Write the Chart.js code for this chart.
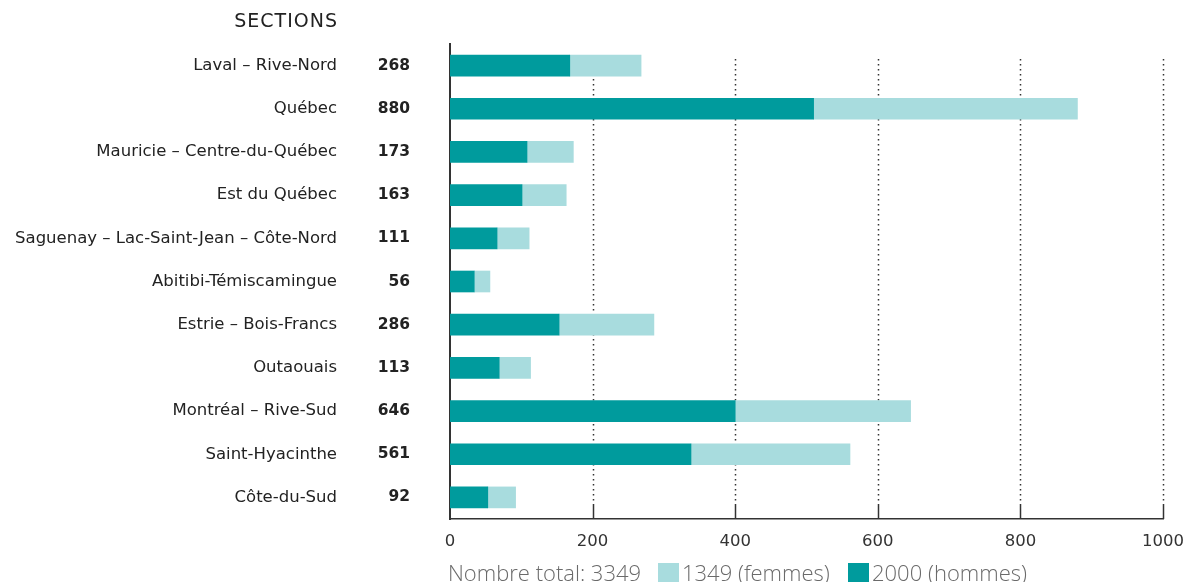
<!DOCTYPE html>
<html>
<head>
<meta charset="utf-8">
<script src="https://cdn.jsdelivr.net/npm/chart.js@4"></script>
<style>
	html, body { margin: 0; padding: 0; background: #fff; }
	.wrap { position: relative; width: 1185px; height: 582px; }
</style>
</head>
<body>
<div class="wrap"><canvas id="sectionsChart"></canvas></div>
<script>
const sections = [
	'Laval – Rive-Nord',
	'Québec',
	'Mauricie – Centre-du-Québec',
	'Est du Québec',
	'Saguenay – Lac-Saint-Jean – Côte-Nord',
	'Abitibi-Témiscamingue',
	'Estrie – Bois-Francs',
	'Outaouais',
	'Montréal – Rive-Sud',
	'Saint-Hyacinthe',
	'Côte-du-Sud'
];
const totals = [268, 880, 173, 163, 111, 56, 286, 113, 646, 561, 92];
const hommes = [168, 510, 108, 101, 66, 34, 153, 69, 400, 338, 53];
const femmes = [100, 370, 65, 62, 45, 22, 133, 44, 246, 223, 39];
const xTicks = [0, 200, 400, 600, 800, 1000];

const axisTitle = 'SECTIONS';
const totalLabel = 'Nombre total: 3349';
const femmesLabel = '1349 (femmes)';
const hommesLabel = '2000 (hommes)';

const colors = {
	hommes: '#009b9d',
	femmes: '#a8dcde',
	text: '#222',
	axis: '#333',
	legend: '#6a6a6a'
};
const labelFont = '"DejaVu Sans", "Noto Sans", sans-serif';
const legendFont = '"Open Sans", "Noto Sans", sans-serif';

// dotted grid + small solid ticks above the x axis, and the extra texts
const overlay = {
	id: 'overlay',
	beforeDatasetsDraw(chart) {
		const { ctx, chartArea, scales } = chart;
		ctx.save();
		ctx.strokeStyle = colors.axis;
		ctx.lineWidth = 1.5;
		xTicks.forEach(v => {
			if (v === 0) return;
			const px = Math.round(scales.x.getPixelForValue(v)) + 0.5;
			ctx.setLineDash([1.5, 3.5]);
			ctx.beginPath();
			ctx.moveTo(px, chartArea.top + 15);
			ctx.lineTo(px, chartArea.bottom - 14);
			ctx.stroke();
			ctx.setLineDash([]);
			ctx.beginPath();
			ctx.moveTo(px, chartArea.bottom - 14);
			ctx.lineTo(px, chartArea.bottom);
			ctx.stroke();
		});
		ctx.restore();
	},
	afterDraw(chart) {
		const { ctx, scales } = chart;
		ctx.save();
		ctx.fillStyle = colors.text;
		ctx.textBaseline = 'middle';
		ctx.textAlign = 'right';

		ctx.font = '19px ' + labelFont;
		ctx.letterSpacing = '1px';
		ctx.fillText(axisTitle, 338, 22);
		ctx.letterSpacing = '0px';

		sections.forEach((name, i) => {
			const py = scales.y.getPixelForValue(i);
			ctx.font = '16.5px ' + labelFont;
			ctx.fillText(name, 337, py);
			ctx.font = 'bold 15.5px ' + labelFont;
			ctx.fillText(String(totals[i]), 410, py);
		});

		// legend row
		const ly = 581;
		ctx.textBaseline = 'alphabetic';
		ctx.textAlign = 'left';
		ctx.font = '300 22px ' + legendFont;
		ctx.fillStyle = colors.legend;
		ctx.fillText(totalLabel, 448, ly);
		ctx.fillStyle = colors.femmes;
		ctx.fillRect(658, 563, 21, 19);
		ctx.fillStyle = colors.legend;
		ctx.fillText(femmesLabel, 682, ly);
		ctx.fillStyle = colors.hommes;
		ctx.fillRect(848, 563, 21, 19);
		ctx.fillStyle = colors.legend;
		ctx.fillText(hommesLabel, 872, ly);
		ctx.restore();
	}
};

new Chart(document.getElementById('sectionsChart'), {
	type: 'bar',
	data: {
		labels: sections,
		datasets: [
			{ label: 'hommes', data: hommes, backgroundColor: colors.hommes, barThickness: 21 },
			{ label: 'femmes', data: femmes, backgroundColor: colors.femmes, barThickness: 21 }
		]
	},
	options: {
		indexAxis: 'y',
		responsive: true,
		maintainAspectRatio: false,
		animation: false,
		layout: { padding: { top: 44, right: 22, left: 0, bottom: 0 } },
		plugins: { legend: { display: false }, tooltip: { enabled: false } },
		scales: {
			x: {
				stacked: true,
				min: 0,
				max: 1000,
				afterBuildTicks: scale => { scale.ticks = xTicks.map(v => ({ value: v })); },
				grid: { display: false, drawTicks: false },
				border: { display: true, color: colors.axis, width: 1.5 },
				ticks: {
					color: colors.axis,
					padding: 13,
					font: { family: labelFont, size: 16.5 },
					callback: v => String(v)
				},
				afterFit: scale => {
					scale.height = 63;
					scale.paddingLeft = 0;
					scale.paddingRight = 0;
				}
			},
			y: {
				stacked: true,
				grid: { display: false, drawTicks: false },
				border: { display: true, color: colors.axis, width: 2 },
				ticks: { display: false },
				afterFit: scale => { scale.width = 450; }
			}
		}
	},
	plugins: [overlay]
});
</script>
</body>
</html>
